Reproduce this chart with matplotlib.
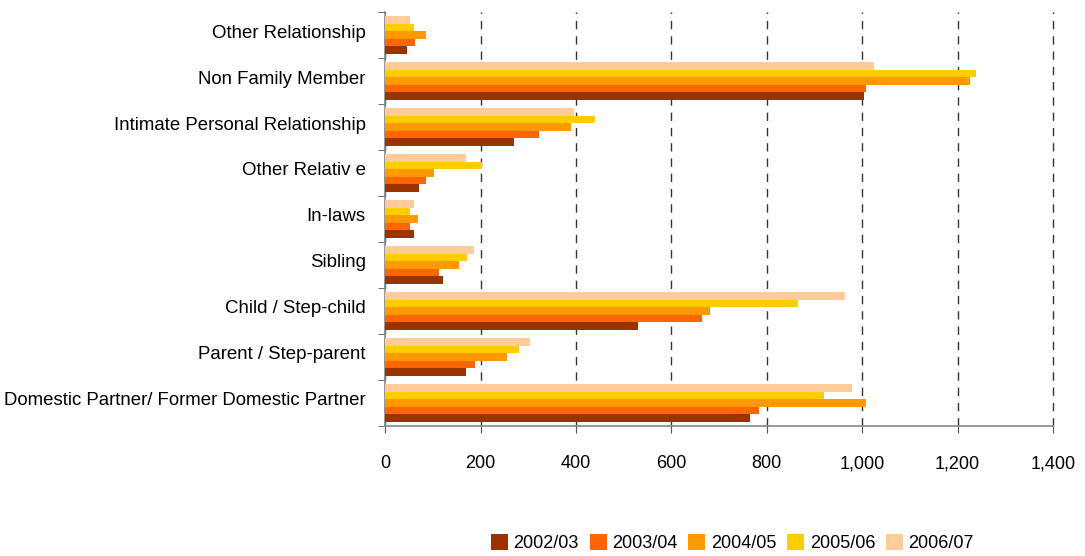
import matplotlib
matplotlib.use("Agg")
import matplotlib.pyplot as plt
import numpy as np
from matplotlib.ticker import FuncFormatter, FixedLocator

plt.rcParams['font.family'] = ['Liberation Sans', 'DejaVu Sans']

categories = ["Domestic Partner/ Former Domestic Partner", "Parent / Step-parent",
              "Child / Step-child", "Sibling", "In-laws", "Other Relativ e",
              "Intimate Personal Relationship", "Non Family Member", "Other Relationship"]
years = ["2002/03", "2003/04", "2004/05", "2005/06", "2006/07"]
colors = ["#993300", "#FF6600", "#FF9900", "#FFCC00", "#FFCC99"]

v2002 = [764, 169, 529, 121, 60, 70, 271, 1003, 45]
v2003 = [783, 188, 665, 112, 53, 85, 322, 1007, 62]
v2004 = [1007, 255, 680, 154, 68, 102, 389, 1225, 85]
v2005 = [919, 280, 865, 171, 53, 202, 439, 1238, 60]
v2006 = [978, 303, 965, 186, 60, 169, 395, 1024, 53]
series = [v2002, v2003, v2004, v2005, v2006]

fig = plt.figure(figsize=(10.85, 5.56), dpi=100)
ax = fig.add_axes([0.355, 0.234, 0.6155, 0.744])

y = np.arange(len(categories))
h = 0.163
for i, (vals, c, lab) in enumerate(zip(series, colors, years)):
    ax.barh(y + (i - 2) * h, vals, height=h, color=c, label=lab, zorder=3, linewidth=0)

ax.set_xlim(0, 1400)
ax.set_ylim(-0.5, len(categories) - 0.5)
ax.set_xticks(np.arange(0, 1401, 200))
ax.xaxis.set_major_formatter(FuncFormatter(lambda v, p: f"{int(v):,}"))
# category labels sit slightly above the centre of each bar group
ax.set_yticks(y + 0.09)
ax.set_yticklabels(categories, fontsize=13.4)
ax.yaxis.set_minor_locator(FixedLocator(np.arange(-0.5, len(categories), 1)))
ax.tick_params(axis='y', which='major', length=0, pad=14)
ax.tick_params(axis='y', which='minor', length=5, color='#555555', direction='out')
ax.tick_params(axis='x', which='major', length=5, color='#555555', direction='out',
               labelsize=13, pad=16)

ax.grid(axis='x', color='#333333', linestyle=(0, (6, 5)), linewidth=1, zorder=0)
for gl in ax.get_xgridlines():
    gl.set_clip_on(False)
ax.set_axisbelow(True)
for s in ['top', 'right']:
    ax.spines[s].set_visible(False)
for s in ['left', 'bottom']:
    ax.spines[s].set_color('#888888')
    ax.spines[s].set_linewidth(1.2)

leg = fig.legend(loc='center', bbox_to_anchor=(0.675, 0.023), ncol=5, frameon=False,
                 fontsize=13, handlelength=0.95, handleheight=0.95, handletextpad=0.3,
                 columnspacing=0.6)

fig.savefig("out.png", dpi=100)
